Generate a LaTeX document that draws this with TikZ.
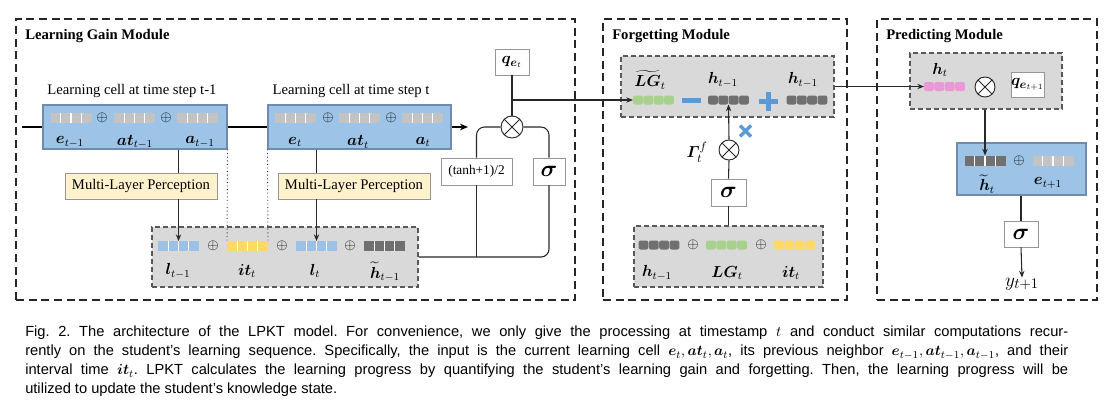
\documentclass[tikz,border=0pt]{standalone}
\usepackage{fontspec}
\setmainfont{Liberation Serif}
\newfontfamily\capfont{Liberation Sans}
\usepackage{amsmath,bm}
\usetikzlibrary{calc,arrows.meta}
\definecolor{cellblue}{RGB}{157,195,230}
\definecolor{cellborder}{RGB}{110,140,175}
\definecolor{gbg}{RGB}{217,217,217}
\definecolor{boxgray}{RGB}{150,150,150}
\definecolor{mlpyellow}{RGB}{255,242,204}
\definecolor{vgray}{RGB}{195,195,195}
\definecolor{vblue}{RGB}{155,194,230}
\definecolor{vyellow}{RGB}{255,217,102}
\definecolor{vdark}{RGB}{112,112,112}
\definecolor{vgreen}{RGB}{169,209,142}
\definecolor{vpink}{RGB}{234,153,214}
\definecolor{signblue}{RGB}{91,155,213}
\definecolor{linecol}{RGB}{40,40,40}
\tikzset{
  modbox/.style={draw=black!85, line width=1pt, dash pattern=on 6pt off 3.5pt, inner sep=0pt},
  graybox/.style={draw=black!65, fill=gbg, line width=0.8pt, dash pattern=on 4pt off 2pt, inner sep=0pt},
  cellbox/.style={draw=cellborder, fill=cellblue, line width=0.8pt, inner sep=0pt},
  wbox/.style={draw=boxgray, fill=white, line width=0.7pt, inner sep=0pt, font=\fontsize{13}{15}\selectfont},
  sigbox/.style={wbox, font=\fontsize{16}{18}\selectfont},
  mlpbox/.style={draw=boxgray, fill=mlpyellow, line width=0.7pt, inner sep=0pt, minimum width=114pt, minimum height=19.5pt, font=\fontsize{11}{13}\selectfont},
  sqvec/.style={minimum width=30.75pt, minimum height=7.5pt, inner sep=0pt, outer sep=0pt, fill=#1,
     path picture={\foreach \i in {1,2,3}{\draw[white,line width=1pt] ($(path picture bounding box.south west)!\i/4!(path picture bounding box.south east)$) -- ($(path picture bounding box.north west)!\i/4!(path picture bounding box.north east)$);}}},
  vecslot/.style={minimum width=30.75pt, minimum height=6.75pt, inner sep=0pt, outer sep=0pt},
  otimes/.style={circle, draw=linecol, fill=white, line width=0.7pt, minimum size=#1, inner sep=0pt,
     path picture={\draw[linecol,line width=0.7pt] (path picture bounding box.north west) -- (path picture bounding box.south east) (path picture bounding box.north east) -- (path picture bounding box.south west);}},
  lab/.style={inner sep=0pt, font=\fontsize{11}{13}\selectfont},
  mlab/.style={inner sep=0pt, font=\fontsize{12}{14}\selectfont},
  oplus/.style={inner sep=0pt, font=\fontsize{11}{13}\selectfont},
  title/.style={inner sep=0pt, anchor=west, font=\bfseries\fontsize{11}{13}\selectfont},
  conn/.style={draw=linecol, line width=0.8pt},
  arr/.style={conn, -{Stealth[length=5pt,width=4pt]}},
  thickline/.style={draw=black, line width=1.6pt},
}
\newcommand\rvec[4]{%
  \node[vecslot] (#1) at (#2,#3) {};
  \foreach \k in {0,1,2,3}{\fill[#4, rounded corners=1.6pt] ([xshift=\k*7.77pt]#1.south west) rectangle ++(7.4pt,6.75pt);}
}
\begin{document}
\begin{tikzpicture}[x=0.75pt,y=-0.75pt]
\useasboundingbox (0,0) rectangle (1119,405);

% ---------- module frames ----------
\node[modbox, minimum width=419.25pt, minimum height=210.75pt] (lgm) at (295.5,159.5) {};
\node[modbox, minimum width=183pt, minimum height=210.75pt] (fgm) at (725,159.5) {};
\node[modbox, minimum width=165pt, minimum height=210.75pt] (prm) at (987,159.5) {};
\node[title] (t1) at (25,36) {Learning Gain Module};
\node[title] (t2) at (612,36) {Forgetting Module};
\node[title] (t3) at (886,36) {Predicting Module};

% ---------- learning gain module ----------
\node[lab] (capA) at (132,91) {Learning cell at time step t-1};
\node[lab] (capB) at (351,91) {Learning cell at time step t};
\node[cellbox, minimum width=138pt, minimum height=33pt] (cellA) at (135,127) {};
\node[cellbox, minimum width=137.25pt, minimum height=33pt] (cellB) at (359.5,127) {};

\node[sqvec=vgray] (eA) at (71,118) {};
\node[sqvec=vgray] (atA) at (134.5,118) {};
\node[sqvec=vgray] (aA) at (197.5,118) {};
\node[oplus] (pA1) at (102,118) {$\oplus$};
\node[oplus] (pA2) at (166,118) {$\oplus$};
\node[mlab] (leA) at (70,142) {$\bm{e}_{t-1}$};
\node[mlab] (latA) at (135,142) {$\bm{at}_{t-1}$};
\node[mlab] (laA) at (200,142) {$\bm{a}_{t-1}$};

\node[sqvec=vgray] (eB) at (295.5,118) {};
\node[sqvec=vgray] (atB) at (359.5,118) {};
\node[sqvec=vgray] (aB) at (422.5,118) {};
\node[oplus] (pB1) at (328,118) {$\oplus$};
\node[oplus] (pB2) at (391,118) {$\oplus$};
\node[mlab] (leB) at (295,142) {$\bm{e}_t$};
\node[mlab] (latB) at (358,142) {$\bm{at}_t$};
\node[mlab] (laB) at (423,142) {$\bm{a}_t$};

\coordinate (start) at (22,127);
\coordinate (cellEnd) at (468,127);
\draw[thickline] (start) -- (cellA.west);
\draw[thickline] (cellA.east) -- (cellB.west);
\draw[thickline, -{Stealth[length=6pt,width=5pt]}] (cellB.east) -- (cellEnd);

\node[mlpbox] (mlpA) at (141,186) {Multi-Layer Perception};
\node[mlpbox] (mlpB) at (354,186) {Multi-Layer Perception};

\node[graybox, minimum width=199.5pt, minimum height=45pt] (gA) at (285,257) {};
\node[sqvec=vblue] (lA) at (178.5,246) {};
\node[sqvec=vyellow] (itA) at (247.5,246) {};
\node[sqvec=vblue] (lB) at (316.5,246) {};
\node[sqvec=vdark] (htA) at (384.5,246) {};
\node[oplus] (pg1) at (213,246) {$\oplus$};
\node[oplus] (pg2) at (282,246) {$\oplus$};
\node[oplus] (pg3) at (350,246) {$\oplus$};
\node[mlab] (llA) at (178,271) {$\bm{l}_{t-1}$};
\node[mlab] (litA) at (247,271) {$\bm{it}_t$};
\node[mlab] (llB) at (315,271) {$\bm{l}_t$};
\node[mlab] (lhtA) at (385,272) {$\widetilde{\bm{h}}_{t-1}$};

\draw[conn] (cellA.south -| lA.north) -- (mlpA.north -| lA.north);
\draw[arr] (mlpA.south -| lA.north) -- (lA.north);
\draw[conn] (cellB.south -| lB.north) -- (mlpB.north -| lB.north);
\draw[arr] (mlpB.south -| lB.north) -- (lB.north);
\draw[linecol, line width=0.7pt, dotted] (cellA.south east) -- (itA.north west);
\draw[linecol, line width=0.7pt, dotted] (cellB.south west) -- (itA.north east);

\node[wbox, minimum width=53.25pt, minimum height=20.25pt, font=\fontsize{10}{12}\selectfont] (tanh) at (476.5,171.5) {(tanh+1)/2};
\node[sigbox, minimum width=24pt, minimum height=20.25pt] (sig1) at (549,171.5) {$\bm{\sigma}$};
\node[otimes=16.5pt] (ot1) at (512,127) {};
\node[wbox, minimum width=25.5pt, minimum height=19.5pt] (qe) at (512,62) {$\bm{q}_{\bm{e}_t}$};

\draw[conn, rounded corners=6pt] (gA.east) -| (sig1.south);
\draw[conn] (tanh.south) -- (tanh.south |- gA.east);
\draw[conn, rounded corners=6pt] (tanh.north) |- (ot1.west);
\draw[conn, rounded corners=6pt] (sig1.north) |- (ot1.east);
\draw[conn] (ot1.north) -- (qe.south);

% ---------- forgetting module ----------
\node[graybox, minimum width=159.75pt, minimum height=45.75pt] (fT) at (727.5,86.5) {};
\rvec{lgT}{653.5}{100}{vgreen}
\rvec{hF}{728.5}{100}{vdark}
\rvec{hF2}{807}{100}{vdark}
\node[mlab] (llgT) at (650,80) {$\widetilde{\bm{LG}}_t$};
\node[mlab] (lhF) at (723,80) {$\bm{h}_{t-1}$};
\node[mlab] (lhF2) at (803,80) {$\bm{h}_{t-1}$};
\fill[signblue] (682,97.5) rectangle (701,102.5);
\fill[signblue] (758.5,99) rectangle (777.5,104);
\fill[signblue] (765.5,92) rectangle (770.5,111);
\draw[signblue, line width=2.6pt] (740,125.5) -- (751,136.5) (740,136.5) -- (751,125.5);

\draw[arr] (ot1.north |- lgT.west) -- (lgT.west);

\node[otimes=15pt] (ot2) at (729,150) {};
\node[inner sep=0pt, font=\fontsize{13}{15}\selectfont] (lgam) at (697,152) {$\bm{\varGamma}_t^f$};
\node[sigbox, minimum width=26.25pt, minimum height=20.25pt] (sig2) at (728.5,192.5) {$\bm{\sigma}$};
\node[graybox, minimum width=141.75pt, minimum height=45.75pt] (gF) at (728.5,256.5) {};
\rvec{hG}{659}{245}{vdark}
\rvec{lgG}{726.5}{245}{vgreen}
\rvec{itG}{794.5}{245}{vyellow}
\node[oplus] (pf1) at (693,245) {$\oplus$};
\node[oplus] (pf2) at (761,245) {$\oplus$};
\node[mlab] (lhG) at (657,273) {$\bm{h}_{t-1}$};
\node[mlab] (llgG) at (727,273) {$\bm{LG}_t$};
\node[mlab] (litG) at (791,273) {$\bm{it}_t$};

\draw[arr] (ot2.north) -- (hF.south);
\draw[conn] (sig2.north) -- (ot2.south);
\draw[conn] (gF.north) -- (sig2.south);

% ---------- predicting module ----------
\node[graybox, minimum width=114pt, minimum height=42pt] (pB) at (986,81) {};
\rvec{hP}{944.5}{86.5}{vpink}
\node[mlab] (lhP) at (940,70) {$\bm{h}_t$};
\node[otimes=15pt] (ot3) at (985,87) {};
\node[wbox, minimum width=24.75pt, minimum height=18.75pt] (qe2) at (1027.5,84.5) {$\bm{q}_{\bm{e}_{t+1}}$};

\draw[arr] (fT.east) -- (fT.east -| hP.west);

\node[cellbox, minimum width=96.75pt, minimum height=39pt] (cellP) at (1021.5,169) {};
\node[sqvec=vdark] (htP) at (985,160.5) {};
\node[sqvec=vgray] (eP) at (1053,160.5) {};
\node[oplus] (pp1) at (1019,160.5) {$\oplus$};
\node[mlab] (lhtP) at (987,184) {$\widetilde{\bm{h}}_t$};
\node[mlab] (leP) at (1048,183) {$\bm{e}_{t+1}$};

\node[sigbox, minimum width=25.5pt, minimum height=19.5pt] (sig3) at (1021,234) {$\bm{\sigma}$};
\node[inner sep=0pt, font=\fontsize{15}{17}\selectfont] (yout) at (1022,284) {$y_{t+1}$};

\draw[arr] (pB.south -| htP.north) -- (htP.north);
\draw[conn] (cellP.south -| sig3.north) -- (sig3.north);
\draw[arr] (sig3.south) -- (yout.north);

% ---------- caption ----------
\node[anchor=north west, text width=782.25pt, align=justify, inner sep=0pt,
      font=\capfont\fontsize{11}{14.25}\selectfont\frenchspacing] (cap) at (25,326)
{Fig.~2. The architecture of the LPKT model. For convenience, we only give the processing at timestamp $t$ and conduct similar computations recur-\linebreak
rently on the student’s learning sequence. Specifically, the input is the current learning cell $\bm{e}_t, \bm{at}_t, \bm{a}_t$, its previous neighbor $\bm{e}_{t-1}, \bm{at}_{t-1}, \bm{a}_{t-1}$, and their\linebreak
interval time $\bm{it}_t$. LPKT calculates the learning progress by quantifying the student’s learning gain and forgetting. Then, the learning progress will be\linebreak
utilized to update the student’s knowledge state.};
\end{tikzpicture}
\end{document}
